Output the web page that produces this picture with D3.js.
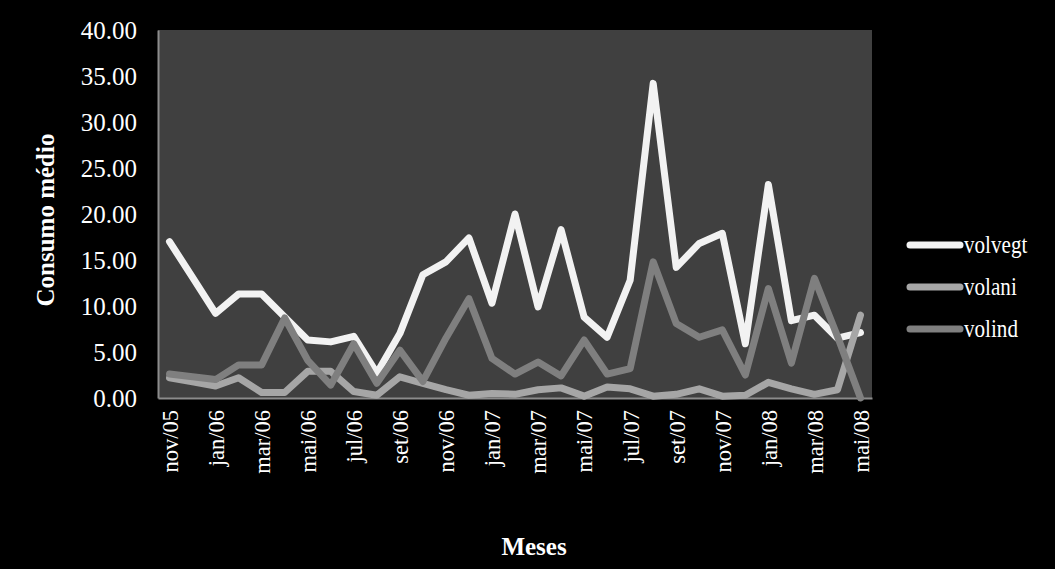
<!DOCTYPE html>
<html>
<head>
<meta charset="utf-8">
<script src="https://cdn.jsdelivr.net/npm/d3@7"></script>
<style>
  html, body { margin: 0; padding: 0; background: #000; }
  svg { display: block; }
  text { font-family: "Liberation Serif", "Times New Roman", serif; fill: #fff; }
</style>
</head>
<body>
<svg id="chart" width="1055" height="569"></svg>
<script>
// Monthly categories, Nov 2005 to May 2008
const months = ["nov/05","dez/05","jan/06","fev/06","mar/06","abr/06","mai/06","jun/06",
  "jul/06","ago/06","set/06","out/06","nov/06","dez/06","jan/07","fev/07","mar/07","abr/07",
  "mai/07","jun/07","jul/07","ago/07","set/07","out/07","nov/07","dez/07","jan/08","fev/08",
  "mar/08","abr/08","mai/08"];

const volvegt = [17.0, 13.1, 9.2, 11.3, 11.3, 8.8, 6.3, 6.1, 6.7, 2.7, 7.0, 13.4, 14.8, 17.4, 10.3,
  20.0, 9.9, 18.3, 8.8, 6.6, 12.8, 34.2, 14.2, 16.8, 17.9, 5.9, 23.2, 8.4, 9.0, 6.5, 7.1];
const volani = [2.2, 1.75, 1.3, 2.2, 0.6, 0.6, 2.9, 2.9, 0.7, 0.3, 2.3, 1.6, 0.9, 0.3, 0.5,
  0.4, 0.9, 1.1, 0.2, 1.2, 1.0, 0.2, 0.4, 1.0, 0.2, 0.3, 1.7, 1.0, 0.4, 0.9, 9.0];
const volind = [2.6, 2.3, 2.0, 3.6, 3.6, 8.7, 4.1, 1.4, 5.9, 1.6, 5.2, 1.8, 6.5, 10.8, 4.3,
  2.6, 3.9, 2.4, 6.3, 2.6, 3.2, 14.8, 8.1, 6.6, 7.4, 2.5, 11.9, 3.8, 13.0, 6.7, 0.0];

const seriesNames = ["volvegt", "volani", "volind"];
const seriesColors = ["#f2f2f2", "#a6a6a6", "#7f7f7f"];
const yTicks = [0, 5, 10, 15, 20, 25, 30, 35, 40];

const series = [volvegt, volani, volind].map((values, i) => ({
  name: seriesNames[i], color: seriesColors[i], values
}));

const svg = d3.select("#chart");
const plot = { left: 158, right: 872, top: 30, bottom: 398 };

const x = d3.scalePoint().domain(months).range([plot.left, plot.right]).padding(0.5);
const y = d3.scaleLinear().domain([0, 40]).range([plot.bottom, plot.top]);

// plot area
svg.append("rect")
  .attr("x", plot.left).attr("y", plot.top)
  .attr("width", plot.right - plot.left).attr("height", plot.bottom - plot.top)
  .attr("fill", "#404040");

// y axis
const yAxis = svg.append("g")
  .attr("transform", `translate(${plot.left},0)`)
  .call(d3.axisLeft(y).tickValues(yTicks).tickFormat(d3.format(".2f")).tickSize(0).tickPadding(21));
yAxis.select(".domain").attr("stroke", "#8c8c8c").attr("stroke-width", 2);
yAxis.selectAll("text").attr("font-size", 25).attr("fill", "#fff")
  .style("font-family", "'Liberation Serif', serif");

// x axis, every other month labelled
const xAxis = svg.append("g")
  .attr("transform", `translate(0,${plot.bottom})`)
  .call(d3.axisBottom(x).tickSize(0)
    .tickFormat((d, i) => i % 2 === 0 ? d : ""));
xAxis.select(".domain").attr("stroke", "#8c8c8c").attr("stroke-width", 2);
xAxis.selectAll("text")
  .attr("font-size", 22.5).attr("fill", "#fff")
  .style("font-family", "'Liberation Serif', serif")
  .attr("text-anchor", "end")
  .attr("transform", "rotate(-90)")
  .attr("x", -12).attr("y", 0).attr("dy", "0.35em");

// series lines
const line = d3.line()
  .x((d, i) => x(months[i]))
  .y(d => y(d));

svg.append("g").selectAll("path")
  .data(series)
  .join("path")
  .attr("d", d => line(d.values))
  .attr("fill", "none")
  .attr("stroke", d => d.color)
  .attr("stroke-width", 7)
  .attr("stroke-linejoin", "round")
  .attr("stroke-linecap", "round");

// legend
const legend = svg.append("g");
const legendY = d3.scalePoint().domain(seriesNames).range([245, 329]);
const items = legend.selectAll("g").data(series).join("g")
  .attr("transform", d => `translate(0,${legendY(d.name)})`);
items.append("line")
  .attr("x1", 910).attr("x2", 960).attr("y1", 0).attr("y2", 0)
  .attr("stroke", d => d.color).attr("stroke-width", 7).attr("stroke-linecap", "round");
items.append("text")
  .attr("transform", "translate(964,0) scale(0.88,1.05)")
  .attr("dy", "0.32em")
  .attr("font-size", 24)
  .text(d => d.name);

// axis titles
svg.append("text")
  .attr("transform", "translate(54,220) rotate(-90)")
  .attr("text-anchor", "middle")
  .attr("font-size", 25).attr("font-weight", "bold")
  .text("Consumo médio");

svg.append("text")
  .attr("x", 534).attr("y", 555)
  .attr("text-anchor", "middle")
  .attr("font-size", 25).attr("font-weight", "bold")
  .text("Meses");
</script>
</body>
</html>
